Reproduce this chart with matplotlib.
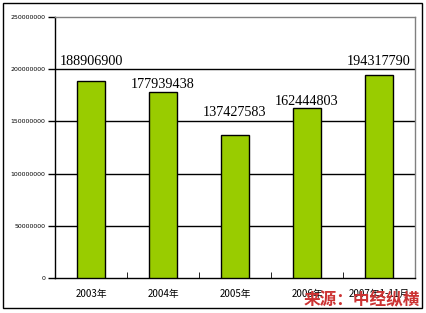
import matplotlib.pyplot as plt
from matplotlib.patches import Rectangle

# DATA
years = ['2003年', '2004年', '2005年', '2006年', '2007年1-11月']
values = [188906900, 177939438, 137427583, 162444803, 194317790]

# label placement (the source chart puts them irregularly)
label_y = [207.7e6, 185.6e6, 158.7e6, 169.2e6, 207.7e6]

plt.rcParams['font.family'] = ['Noto Sans CJK SC', 'DejaVu Sans']

fig = plt.figure(figsize=(4.26, 3.13), dpi=100)
fig.patch.set_facecolor('white')
ax = fig.add_axes([55 / 426, 1 - 278 / 313, 360 / 426, 261 / 313])

x = range(len(years))
ax.bar(x, values, width=0.39, color='#99cc00', edgecolor='black', linewidth=1, zorder=3)

for i, (v, ly) in enumerate(zip(values, label_y)):
    ax.text(i, ly, str(v), ha='center', va='center', fontsize=10.2,
            family='Liberation Serif', color='black', zorder=4)

# GRID
ax.set_ylim(0, 250e6)
ax.set_xlim(-0.5, len(years) - 0.5)
yt = [0, 50e6, 100e6, 150e6, 200e6, 250e6]
ax.set_yticks(yt)
ax.set_yticklabels([f'{int(t)}' for t in yt], fontsize=4.5, family='DejaVu Sans')
for t in yt[1:-1]:
    ax.axhline(t, color='black', linewidth=1, zorder=1)

ax.set_xticks([i + 0.5 for i in range(len(years) - 1)], minor=True)
ax.set_xticks(list(x))
ax.set_xticklabels(years, fontsize=7)
ax.tick_params(axis='x', which='major', length=0, pad=8)
ax.tick_params(axis='x', which='minor', direction='in', length=4, color='black')
ax.tick_params(axis='y', direction='out', length=5, width=1, pad=2)

ax.spines['left'].set_color('black')
ax.spines['bottom'].set_color('black')
ax.spines['top'].set_color('#808080')
ax.spines['right'].set_color('#808080')
for s in ax.spines.values():
    s.set_linewidth(1)

# OUTER FRAME
fig.patches.append(Rectangle((3 / 426, 5 / 313), 419 / 426, 305 / 313, transform=fig.transFigure,
                             fill=False, edgecolor='black', linewidth=1))

# SOURCE
fig.text(420 / 426, 1 - 300 / 313, '来源：中经纵横', ha='right', va='center', fontsize=12,
         fontweight='bold', color='#cc3333', family=['Noto Sans CJK SC', 'DejaVu Sans'])

plt.savefig('out.png', dpi=100)
